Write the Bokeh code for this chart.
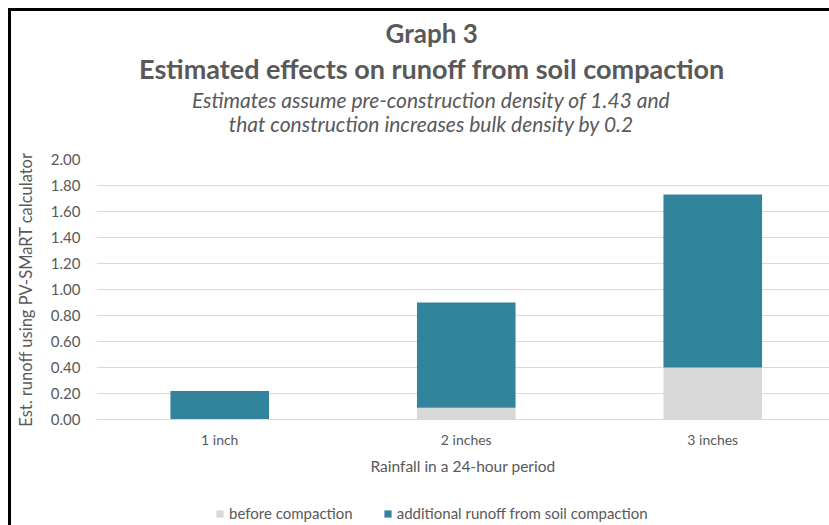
from bokeh.plotting import figure
from bokeh.layouts import column
from bokeh.models import (Range1d, FixedTicker, SingleIntervalTicker, NumeralTickFormatter,
                          Title, Legend, LegendItem, ColumnDataSource)
from bokeh.embed import file_html
from bokeh.resources import INLINE

# ---- data ----
categories = ["1 inch", "2 inches", "3 inches"]
before_compaction = [0.0, 0.09, 0.40]
additional_runoff = [0.22, 0.81, 1.33]
series_names = ["before compaction", "additional runoff from soil compaction"]
title_lines = ["Graph 3", "Estimated effects on runoff from soil compaction"]
subtitle_lines = ["Estimates assume pre-construction density of 1.43 and",
                  "that construction increases bulk density by 0.2"]
y_label = "Est. runoff using PV-SMaRT calculator"
x_label = "Rainfall in a 24-hour period"

# ---- styling ----
FONT = "Lato"
TXT = "#595959"
GRAY = "#d9d9d9"
TEAL = "#31849b"
GRID = "#d9d9d9"
COLORS = [GRAY, TEAL]

OFF = 11                      # 8px margin + 3px border
W = 829 - OFF
H_ALL = 525 - OFF
H_LEG = 24
H = H_ALL - H_LEG
FL, FT = 96 - OFF, 159 - OFF
FB = H - (419.3 - OFF)
CAT_PX = 246.5
x_end = (W - FL) / CAT_PX

positions = [i + 0.5 for i in range(len(categories))]
src = ColumnDataSource(dict(x=positions, before=before_compaction, additional=additional_runoff))

p = figure(width=W, height=H, output_backend="svg", toolbar_location=None,
           x_range=Range1d(0, x_end), y_range=Range1d(0, 2.0),
           min_border_left=FL, min_border_right=0, min_border_top=FT,
           min_border_bottom=int(round(FB)))
p.title.visible = False
p.outline_line_color = None
p.background_fill_color = "white"
p.border_fill_color = "white"

rs = p.vbar_stack(["before", "additional"], x="x", width=0.4, color=COLORS,
                  line_color=None, source=src)

# axes
p.xaxis.ticker = FixedTicker(ticks=positions)
p.xaxis.major_label_overrides = {pos: cat for pos, cat in zip(positions, categories)}
p.xaxis.axis_line_color = GRID
p.xaxis.major_tick_line_color = None
p.xaxis.minor_tick_line_color = None
p.xaxis.major_label_standoff = 5
p.xaxis.major_label_text_font = FONT
p.xaxis.major_label_text_font_size = "14px"
p.xaxis.major_label_text_color = TXT
p.xaxis.axis_label = x_label
p.xaxis.axis_label_text_font = FONT
p.xaxis.axis_label_text_font_size = "15.5px"
p.xaxis.axis_label_text_font_style = "normal"
p.xaxis.axis_label_text_color = TXT
p.xaxis.axis_label_standoff = 6

p.yaxis.ticker = SingleIntervalTicker(interval=0.2, num_minor_ticks=0)
p.yaxis.formatter = NumeralTickFormatter(format="0.00")
p.yaxis.axis_line_color = None
p.yaxis.major_tick_line_color = None
p.yaxis.minor_tick_line_color = None
p.yaxis.major_label_standoff = 10
p.yaxis.major_label_text_font = FONT
p.yaxis.major_label_text_font_size = "15px"
p.yaxis.major_label_text_color = TXT
p.yaxis.axis_label = y_label
p.yaxis.axis_label_text_font = FONT
p.yaxis.axis_label_text_font_size = "16.5px"
p.yaxis.axis_label_text_font_style = "normal"
p.yaxis.axis_label_text_color = TXT
p.yaxis.axis_label_standoff = 12

p.xgrid.visible = False
p.ygrid.grid_line_color = GRID
p.ygrid.grid_line_width = 1


def set_standoff(t, v):
    try:
        t.standoff = v
    except (AttributeError, ValueError):
        try:
            t.standoff = max(0, v)
        except (AttributeError, ValueError):
            pass


# blank spacer line between the plot area and the subtitle lines
gap = Title(text=" ", align="left", text_font=FONT, text_font_size="10px", text_color=TXT)
set_standoff(gap, 13.5)
p.add_layout(gap, "above")

# titles: (text, size, style, left offset from plot-area left, standoff)
title_specs = [
    (title_lines[0], "26px", "bold", 289, 5.6),
    (title_lines[1], "27px", "bold", 42.6, -3.2),
    (subtitle_lines[0], "21px", "italic", 95.4, 3.2),
    (subtitle_lines[1], "21px", "italic", 132.2, -8.6),
]
for txt, size, style, off, so in reversed(title_specs):
    t = Title(text=txt, align="left", offset=off, text_font=FONT, text_font_size=size,
              text_font_style=style, text_color=TXT)
    set_standoff(t, so)
    p.add_layout(t, "above")

# legend strip (own small canvas so it can sit where the reference has it);
# its renderers reuse the chart data but lie below this strip's visible range
p2 = figure(width=W, height=H_LEG, output_backend="svg", toolbar_location=None,
            x_range=Range1d(0, x_end), y_range=Range1d(5, 6), min_border=0,
            x_axis_location=None, y_axis_location=None)
p2.title.visible = False
p2.outline_line_color = None
p2.xgrid.visible = False
p2.ygrid.visible = False
leg_rs = p2.vbar_stack(["before", "additional"], x="x", width=0.4, color=COLORS,
                       line_color=None, source=src)
legend = Legend(items=[LegendItem(label=n, renderers=[r]) for n, r in zip(series_names, leg_rs)],
                orientation="horizontal", location=(119, 3),
                glyph_width=9, glyph_height=9, label_standoff=5, spacing=30,
                padding=0, margin=0, border_line_color=None, background_fill_alpha=0,
                label_text_font=FONT, label_text_font_size="15px", label_text_color=TXT)
p2.add_layout(legend, "center")

layout = column(p, p2, spacing=0)
layout.styles = {"margin-left": "8px", "margin-top": "8px",
                 "border-left": "3px solid black", "border-top": "3px solid black"}

open("out.html", "w").write(file_html(layout, INLINE))
